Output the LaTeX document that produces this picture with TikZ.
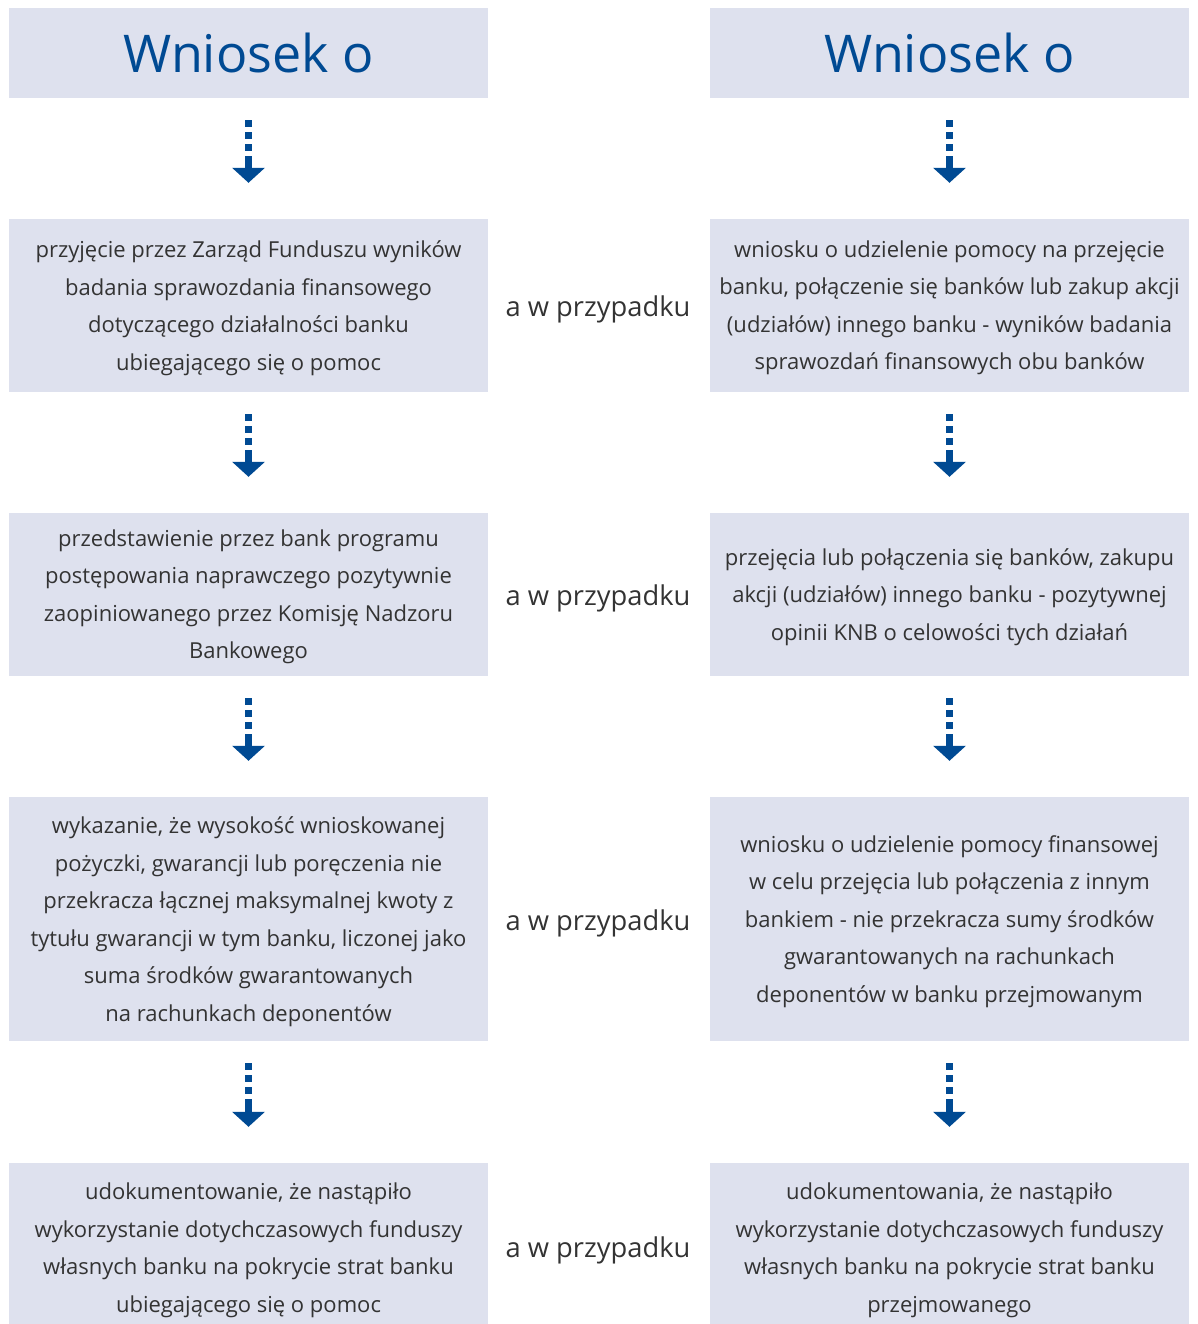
\documentclass[tikz,border=0pt]{standalone}
\usepackage{fontspec}
\setmainfont{Open Sans}
\usetikzlibrary{arrows.meta}
\definecolor{boxfill}{HTML}{DEE1EE}
\definecolor{kblue}{HTML}{004A93}
\definecolor{ktext}{HTML}{333333}
\begin{document}
\begin{tikzpicture}[x=1pt,y=-1pt,
  box/.style={fill=boxfill, minimum width=479pt, inner sep=0pt},
  txt/.style={inner sep=0pt, align=center, text=ktext, font=\fontsize{22}{37.5}\selectfont},
  head/.style={box, minimum height=90pt, align=center, text=kblue, font=\fontsize{52}{60}\selectfont},
  mid/.style={text=ktext, font=\fontsize{27.3}{30}\selectfont, inner sep=0pt},
  arr/.style={draw=kblue, line width=6.5pt,
    dash pattern=on 7pt off 5pt on 7pt off 5pt on 7pt off 5pt on 30pt off 1pt,
    -{Triangle[width=32pt,length=15pt]}, shorten <=22pt, shorten >=36pt}]
\useasboundingbox (0,0) rectangle (1197,1324);

% left column boxes
\node[head] (h1) at (248.5,53) {Wniosek o};
\node[box, minimum height=173pt] (l1) at (248.5,305.5) {};
\node[box, minimum height=163pt] (l2) at (248.5,594.5) {};
\node[box, minimum height=244pt] (l3) at (248.5,919) {};
\node[box, minimum height=170pt] (l4) at (248.5,1248) {};

% right column boxes
\node[head] (h2) at (949.5,53) {Wniosek o};
\node[box, minimum height=173pt] (r1) at (949.5,305.5) {};
\node[box, minimum height=163pt] (r2) at (949.5,594.5) {};
\node[box, minimum height=244pt] (r3) at (949.5,919) {};
\node[box, minimum height=170pt] (r4) at (949.5,1248) {};

% texts
\node[txt] (l1t) at ([yshift=-2.5pt]l1.center) {przyjęcie przez Zarząd Funduszu wyników\\badania sprawozdania finansowego\\dotyczącego działalności banku\\ubiegającego się o pomoc};
\node[txt] (l2t) at ([yshift=-2.5pt]l2.center) {przedstawienie przez bank programu\\postępowania naprawczego pozytywnie\\zaopiniowanego przez Komisję Nadzoru\\Bankowego};
\node[txt] (l3t) at ([yshift=-2.5pt]l3.center) {wykazanie, że wysokość wnioskowanej\\pożyczki, gwarancji lub poręczenia nie\\przekracza łącznej maksymalnej kwoty z\\tytułu gwarancji w tym banku, liczonej jako\\suma środków gwarantowanych\\na rachunkach deponentów};
\node[txt] (l4t) at ([yshift=-2.5pt]l4.center) {udokumentowanie, że nastąpiło\\wykorzystanie dotychczasowych funduszy\\własnych banku na pokrycie strat banku\\ubiegającego się o pomoc};
\node[txt] (r1t) at ([yshift=-2.5pt]r1.center) {wniosku o udzielenie pomocy na przejęcie\\banku, połączenie się banków lub zakup akcji\\(udziałów) innego banku - wyników badania\\sprawozdań finansowych obu banków};
\node[txt] (r2t) at ([yshift=-2.5pt]r2.center) {przejęcia lub połączenia się banków, zakupu\\akcji (udziałów) innego banku - pozytywnej\\opinii KNB o celowości tych działań};
\node[txt] (r3t) at ([yshift=-2.5pt]r3.center) {wniosku o udzielenie pomocy finansowej\\w celu przejęcia lub połączenia z innym\\bankiem - nie przekracza sumy środków\\gwarantowanych na rachunkach\\deponentów w banku przejmowanym};
\node[txt] (r4t) at ([yshift=-2.5pt]r4.center) {udokumentowania, że nastąpiło\\wykorzystanie dotychczasowych funduszy\\własnych banku na pokrycie strat banku\\przejmowanego};

% middle labels
\node[mid] (m1) at (598,309) {a w przypadku};
\node[mid] (m2) at (598,598) {a w przypadku};
\node[mid] (m3) at (598,923) {a w przypadku};
\node[mid] (m4) at (598,1250) {a w przypadku};

% arrows
\draw[arr] (h1) -- (l1);
\draw[arr] (l1) -- (l2);
\draw[arr] (l2) -- (l3);
\draw[arr] (l3) -- (l4);
\draw[arr] (h2) -- (r1);
\draw[arr] (r1) -- (r2);
\draw[arr] (r2) -- (r3);
\draw[arr] (r3) -- (r4);
\end{tikzpicture}
\end{document}
